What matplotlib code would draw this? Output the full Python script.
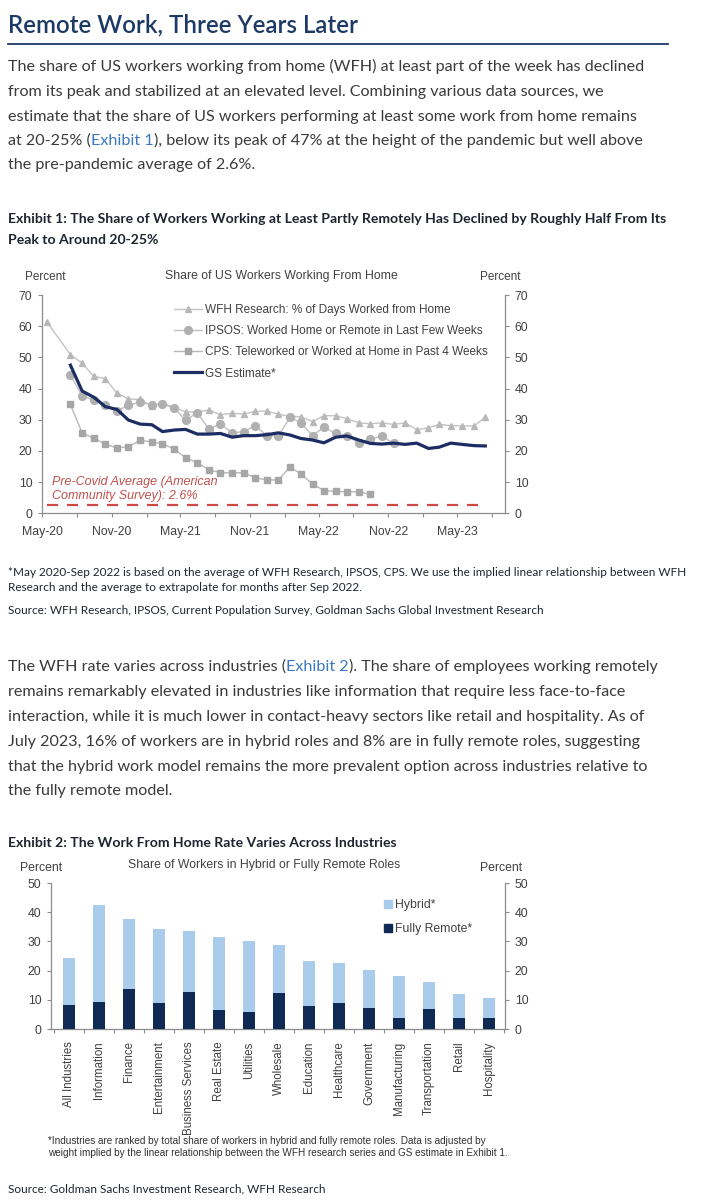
import matplotlib
matplotlib.use("Agg")
import matplotlib.pyplot as plt
import matplotlib.dates as mdates
from matplotlib.lines import Line2D
from matplotlib.patches import Patch
import numpy as np
import pandas as pd

# ---------------- data: Exhibit 1 (percent, monthly) ----------------
wfh_start = "2020-05-01"   # May-20 .. Jul-23
wfh_research = [61.2, np.nan, 50.9, 48.1, 43.9, 43.2, 38.5, 36.7, 36.5, 34.4, 35.3, 34.0,
                32.5, 32.5, 33.1, 31.6, 32.1, 31.8, 32.7, 32.8, 31.8, 31.0, 31.0, 29.4,
                31.3, 31.3, 30.3, 29.0, 28.7, 29.0, 28.5, 29.0, 26.8, 27.4, 28.5, 28.1,
                28.0, 28.0, 30.8]
ipsos_start = "2020-07-01"  # Jul-20 .. Nov-22
ipsos = [44.2, 37.7, 36.3, 34.7, 32.9, 34.6, 35.7, 34.7, 35.0, 33.7, 29.9, 32.2,
         27.1, 28.6, 25.8, 26.2, 28.1, 24.9, 24.9, 30.8, 29.0, 24.9, 27.6, 25.6,
         24.8, 22.6, 23.7, 24.8, 22.4]
cps_start = "2020-07-01"    # Jul-20 .. Sep-22
cps = [34.9, 25.8, 24.0, 22.2, 20.9, 21.4, 23.4, 22.9, 22.3, 20.6, 17.8, 16.2,
       14.0, 13.0, 13.0, 13.0, 11.4, 10.7, 10.7, 14.9, 12.6, 9.4, 7.3, 7.0,
       6.9, 6.9, 6.1]
gs_start = "2020-07-01"     # Jul-20 .. Jul-23
gs_estimate = [47.5, 39.2, 37.2, 34.2, 33.3, 29.9, 28.6, 28.4, 26.2, 26.7, 26.9, 25.4,
               25.4, 25.6, 24.4, 24.9, 24.9, 25.2, 25.8, 25.1, 24.0, 23.5, 22.6, 24.4,
               24.8, 23.5, 22.4, 22.2, 22.5, 22.1, 22.5, 20.8, 21.2, 22.5, 22.1, 21.7,
               21.6]
pre_covid_avg = 2.6

series_labels = ["WFH Research: % of Days Worked from Home",
                 "IPSOS: Worked Home or Remote in Last Few Weeks",
                 "CPS: Teleworked or Worked at Home in Past 4 Weeks",
                 "GS Estimate*"]

# ---------------- data: Exhibit 2 (percent) ----------------
industries = ["All Industries", "Information", "Finance", "Entertainment",
              "Business Services", "Real Estate", "Utilities", "Wholesale",
              "Education", "Healthcare", "Government", "Manufacturing",
              "Transportation", "Retail", "Hospitality"]
fully_remote = [8.1, 9.4, 13.8, 9.0, 12.6, 6.5, 5.9, 12.2, 7.8, 9.0, 7.1, 3.9, 6.7, 3.6, 3.6]
hybrid = [16.1, 33.1, 23.8, 25.1, 20.9, 25.0, 24.3, 16.5, 15.4, 13.5, 13.2, 14.4, 9.5, 8.3, 6.9]


def monthly(start, n):
    return pd.date_range(start, periods=n, freq="MS") + pd.Timedelta(days=14)


# ---------------- figure / page ----------------
W, H = 708, 1200
fig = plt.figure(figsize=(W / 100, H / 100), dpi=100)
fig.patch.set_facecolor("white")
page = fig.add_axes([0, 0, 1, 1], zorder=0)
page.set_xlim(0, W)
page.set_ylim(H, 0)
page.axis("off")
R = fig.canvas.get_renderer()

BODY = ["Lato", "DejaVu Sans"]
CHART = ["Liberation Sans", "DejaVu Sans"]
NAVY_T = "#1d3a66"
TXT = "#3a3a3a"
DARK = "#1e2430"
LINK = "#3a78c0"
CTXT = "#404040"
SPINE = "#8c8c8c"


def width_of(s, **kw):
    t = page.text(0, 0, s, **kw)
    w = t.get_window_extent(renderer=R).width
    t.remove()
    return w


def fit(s, target, base=10, **kw):
    return base * target / width_of(s, fontsize=base, **kw)


def line(x, y, segs, **kw):
    for s, c in segs:
        t = page.text(x, y, s, color=c, va="baseline", ha="left", **kw)
        x += t.get_window_extent(renderer=R).width


# Title + rule
title = "Remote Work, Three Years Later"
fs_t = fit(title, 349, family=BODY, weight="semibold")
line(8, 32, [(title, NAVY_T)], family=BODY, weight="semibold", fontsize=fs_t)
page.plot([8, 668], [44, 44], color=NAVY_T, lw=1.3)

# Paragraph 1
p1 = ["The share of US workers working from home (WFH) at least part of the week has declined",
      "from its peak and stabilized at an elevated level. Combining various data sources, we",
      "estimate that the share of US workers performing at least some work from home remains",
      None,
      "the pre-pandemic average of 2.6%."]
fs_p = fit(p1[0], 640, family=BODY)
for i, ln in enumerate(p1):
    y = 71.5 + i * 24.5
    if ln is None:
        line(8, y, [("at 20-25% (", TXT), ("Exhibit 1", LINK),
                    ("), below its peak of 47% at the height of the pandemic but well above", TXT)],
             family=BODY, fontsize=fs_p)
    else:
        line(8, y, [(ln, TXT)], family=BODY, fontsize=fs_p)

# Exhibit 1 heading
h1 = "Exhibit 1: The Share of Workers Working at Least Partly Remotely Has Declined by Roughly Half From Its"
fs_h = fit(h1, 658, family=BODY, weight="bold")
line(8, 223, [(h1, DARK)], family=BODY, weight="bold", fontsize=fs_h)
line(8, 244, [("Peak to Around 20-25%", DARK)], family=BODY, weight="bold", fontsize=fs_h)

# Exhibit 1 footnotes
f1 = "*May 2020-Sep 2022 is based on the average of WFH Research, IPSOS, CPS. We use the implied linear relationship between WFH"
fs_f = fit(f1, 672, family=BODY)
line(8, 576, [(f1, DARK)], family=BODY, fontsize=fs_f)
line(8, 591, [("Research and the average to extrapolate for months after Sep 2022.", DARK)], family=BODY, fontsize=fs_f)
line(8, 613.5, [("Source: WFH Research, IPSOS, Current Population Survey, Goldman Sachs Global Investment Research", DARK)],
     family=BODY, fontsize=fs_f)

# Paragraph 2
p2 = [None,
      "remains remarkably elevated in industries like information that require less face-to-face",
      "interaction, while it is much lower in contact-heavy sectors like retail and hospitality. As of",
      "July 2023, 16% of workers are in hybrid roles and 8% are in fully remote roles, suggesting",
      "that the hybrid work model remains the more prevalent option across industries relative to",
      "the fully remote model."]
for i, ln in enumerate(p2):
    y = 671 + i * 24.9
    if ln is None:
        line(8, y, [("The WFH rate varies across industries (", TXT), ("Exhibit 2", LINK),
                    ("). The share of employees working remotely", TXT)], family=BODY, fontsize=fs_p)
    else:
        line(8, y, [(ln, TXT)], family=BODY, fontsize=fs_p)

# Exhibit 2 heading
line(8, 847, [("Exhibit 2: The Work From Home Rate Varies Across Industries", DARK)],
     family=BODY, weight="bold", fontsize=fs_h)

# Exhibit 2 footnotes
f2a = "*Industries are ranked by total share of workers in hybrid and fully remote roles. Data is adjusted by"
f2b = "weight implied by the linear relationship between the WFH research series and GS estimate in Exhibit 1."
fs_f2 = fit(f2a, 442, family=CHART)
line(48, 1143.5, [(f2a, "#303030")], family=CHART, fontsize=fs_f2)
line(48, 1155.5, [(f2b, "#303030")], family=CHART, fontsize=fs_f2)
line(8, 1192.5, [("Source: Goldman Sachs Investment Research, WFH Research", DARK)], family=BODY, fontsize=fs_f)

# ---------------- Exhibit 1 chart ----------------
CFS = 8.5
ax1 = fig.add_axes([42 / W, 1 - 513.3 / H, 463 / W, 218.3 / H], zorder=2)
ax1.patch.set_alpha(0)
x_wfh = monthly(wfh_start, len(wfh_research))
x_ip = monthly(ipsos_start, len(ipsos))
x_cps = monthly(cps_start, len(cps))
x_gs = monthly(gs_start, len(gs_estimate))

wfh_s = pd.Series(wfh_research, index=x_wfh).dropna()
ax1.plot(wfh_s.index, wfh_s.values, color="#c4c4c4", lw=1.0, marker="^", ms=4.2,
         mfc="#b8b8b8", mec="#b8b8b8", zorder=3)
ax1.plot(x_ip, ipsos, color="#c0c0c0", lw=1.0, marker="o", ms=5.6,
         mfc="#b0b0b0", mec="#b0b0b0", zorder=3)
ax1.plot(x_cps, cps, color="#b8b8b8", lw=1.0, marker="s", ms=5.0,
         mfc="#a6a6a6", mec="#a6a6a6", zorder=3)
ax1.plot(x_gs, gs_estimate, color="#1b2d63", lw=2.3, zorder=4)
ax1.plot([x_wfh[0], x_wfh[-1]], [pre_covid_avg, pre_covid_avg], color="#cf4a46",
         lw=1.6, dashes=(5, 4), zorder=2)

ax1.set_ylim(0, 70)
ax1.set_xlim(pd.Timestamp("2020-05-01"), pd.Timestamp("2023-09-05"))
ax1.set_yticks(range(0, 71, 10))
ax1.xaxis.set_major_locator(mdates.MonthLocator(bymonth=[5, 11]))
ax1.xaxis.set_major_formatter(mdates.DateFormatter("%b-%y"))
ax1.xaxis.set_minor_locator(mdates.MonthLocator(bymonth=[2, 8]))
for side in ["left", "right", "bottom"]:
    ax1.spines[side].set_color(SPINE)
    ax1.spines[side].set_linewidth(0.9)
ax1.spines["top"].set_visible(False)
ax1.tick_params(axis="y", which="both", left=True, right=True, labelleft=True,
                labelright=True, direction="out", length=3, width=0.8, color=SPINE,
                labelsize=CFS + 0.3, labelcolor=CTXT, pad=4)
ax1.tick_params(axis="x", which="both", direction="out", length=3, width=0.8,
                color=SPINE, labelsize=CFS + 0.3, labelcolor=CTXT, pad=6)
for lab in ax1.get_xticklabels() + ax1.yaxis.get_ticklabels():
    lab.set_family(CHART)
for lab in ax1.yaxis.get_majorticklabels():
    lab.set_family(CHART)

handles = [
    Line2D([], [], color="#c4c4c4", lw=1.0, marker="^", ms=4.2, mfc="#b8b8b8", mec="#b8b8b8"),
    Line2D([], [], color="#c0c0c0", lw=1.0, marker="o", ms=5.6, mfc="#b0b0b0", mec="#b0b0b0"),
    Line2D([], [], color="#b8b8b8", lw=1.0, marker="s", ms=5.0, mfc="#a6a6a6", mec="#a6a6a6"),
    Line2D([], [], color="#1b2d63", lw=2.3),
]
leg = ax1.legend(handles, series_labels, loc="upper left",
                 bbox_to_anchor=(174 / W, 1 - 304 / H), bbox_transform=fig.transFigure,
                 frameon=False, borderpad=0, borderaxespad=0, handlelength=2.4,
                 handletextpad=0.2, labelspacing=0.78,
                 prop={"family": CHART, "size": CFS})
for t in leg.get_texts():
    t.set_color(CTXT)

page.text(52, 481.5, "Pre-Covid Average (American", color="#c0504d", style="italic",
          family=CHART, fontsize=CFS + 0.5, va="center", ha="left")
page.text(52, 495.5, "Community Survey): 2.6%", color="#c0504d", style="italic",
          family=CHART, fontsize=CFS + 0.5, va="center", ha="left")
page.text(45, 277, "Percent", color=CTXT, family=CHART, fontsize=CFS, ha="center", va="center")
page.text(500, 277, "Percent", color=CTXT, family=CHART, fontsize=CFS, ha="center", va="center")
page.text(281, 276, "Share of US Workers Working From Home", color=CTXT, family=CHART,
          fontsize=CFS + 0.3, ha="center", va="center")

# ---------------- Exhibit 2 chart ----------------
ax2 = fig.add_axes([51 / W, 1 - 1029 / H, 454 / W, 146 / H], zorder=2)
ax2.patch.set_alpha(0)
xpos = np.arange(len(industries))
ax2.bar(xpos, fully_remote, width=0.42, color="#0f2a55", label="Fully Remote*", zorder=3)
ax2.bar(xpos, hybrid, width=0.42, bottom=fully_remote, color="#a9cbec", label="Hybrid*", zorder=3)
ax2.set_ylim(0, 50)
ax2.set_xlim(-0.6, len(industries) - 0.47)
ax2.set_yticks(range(0, 51, 10))
ax2.set_xticks(xpos)
ax2.set_xticklabels(industries, rotation=90, family=CHART)
ax2.set_xticks(np.arange(-0.5, len(industries), 1.0), minor=True)
for side in ["left", "right", "bottom"]:
    ax2.spines[side].set_color(SPINE)
    ax2.spines[side].set_linewidth(0.9)
ax2.spines["top"].set_visible(False)
ax2.tick_params(axis="y", left=True, right=True, labelleft=True, labelright=True,
                direction="out", length=3, width=0.8, color=SPINE, labelsize=CFS + 0.3,
                labelcolor=CTXT, pad=4)
ax2.tick_params(axis="x", which="major", length=0, labelsize=CFS - 0.2, labelcolor=CTXT, pad=9)
ax2.tick_params(axis="x", which="minor", direction="out", length=3, width=0.8, color=SPINE)
for lab in ax2.yaxis.get_majorticklabels():
    lab.set_family(CHART)
for lab in ax2.get_xticklabels():
    lab.set_va("top")

leg2_handles = [Patch(color="#a9cbec"), Patch(color="#0f2a55")]
leg2 = ax2.legend(leg2_handles, ["Hybrid*", "Fully Remote*"], loc="upper left",
                  bbox_to_anchor=(384 / W, 1 - 899 / H), bbox_transform=fig.transFigure,
                  frameon=False, borderpad=0, borderaxespad=0, handlelength=0.65,
                  handleheight=0.65, handletextpad=0.25, labelspacing=1.0,
                  prop={"family": CHART, "size": CFS + 0.3})
for t in leg2.get_texts():
    t.set_color(CTXT)

page.text(41, 868, "Percent", color=CTXT, family=CHART, fontsize=CFS + 0.3, ha="center", va="center")
page.text(501, 868, "Percent", color=CTXT, family=CHART, fontsize=CFS + 0.3, ha="center", va="center")
page.text(264, 865, "Share of Workers in Hybrid or Fully Remote Roles", color=CTXT,
          family=CHART, fontsize=CFS + 0.3, ha="center", va="center")

fig.savefig("out.png", dpi=100, facecolor="white")
